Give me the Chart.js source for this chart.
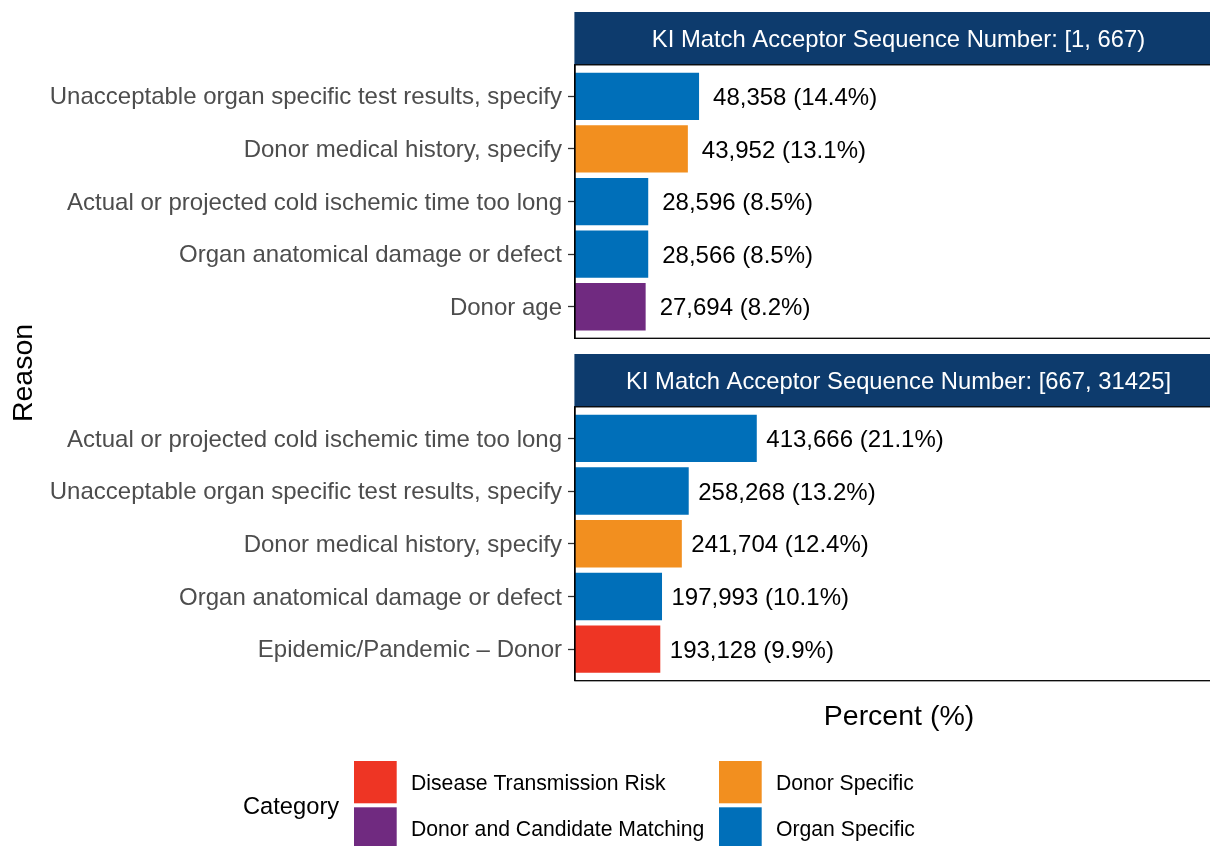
<!DOCTYPE html>
<html><head><meta charset="utf-8">
<script src="https://cdn.jsdelivr.net/npm/chart.js@4"></script>
<style>
html,body{margin:0;padding:0;background:#fff;overflow:hidden;width:1210px;height:846px}
#wrap{position:relative;width:1210px;height:846px;overflow:hidden;background:#fff}
canvas{position:absolute;left:0;top:0}
</style></head><body>
<div id="wrap"><canvas id="c1" width="1230" height="846"></canvas><canvas id="c2" width="1230" height="846"></canvas></div>
<script>
const FONT = "'Liberation Sans', Arial, Helvetica, sans-serif";

// ---- data ----
const facetTitles = ['KI Match Acceptor Sequence Number: [1, 667)', 'KI Match Acceptor Sequence Number: [667, 31425]'];

const reasons1 = ['Unacceptable organ specific test results, specify', 'Donor medical history, specify', 'Actual or projected cold ischemic time too long', 'Organ anatomical damage or defect', 'Donor age'];
const counts1 = [48358, 43952, 28596, 28566, 27694];
const pct1 = [14.4, 13.1, 8.5, 8.5, 8.2];
const cats1 = ['Organ Specific', 'Donor Specific', 'Organ Specific', 'Organ Specific', 'Donor and Candidate Matching'];

const reasons2 = ['Actual or projected cold ischemic time too long', 'Unacceptable organ specific test results, specify', 'Donor medical history, specify', 'Organ anatomical damage or defect', 'Epidemic/Pandemic \u2013 Donor'];
const counts2 = [413666, 258268, 241704, 197993, 193128];
const pct2 = [21.1, 13.2, 12.4, 10.1, 9.9];
const cats2 = ['Organ Specific', 'Organ Specific', 'Donor Specific', 'Organ Specific', 'Disease Transmission Risk'];

const categories = ['Disease Transmission Risk', 'Donor and Candidate Matching', 'Donor Specific', 'Organ Specific'];
const categoryColors = ['#EE3524', '#702A80', '#F28F1F', '#006FB9'];

const xTitle = 'Percent (%)';
const yTitle = 'Reason';
const legendTitle = 'Category';

// ---- styling ----
const NAVY = '#0D3B6D';
const colorOf = c => categoryColors[categories.indexOf(c)];
const fmt = n => n.toLocaleString('en-US');

function makePanel(canvasId, title, reasons, counts, pct, cats, top, bottom, labelGap, extra) {
  const decor = {
    id: 'decor' + canvasId,
    afterDatasetsDraw(chart) {
      const ctx = chart.ctx, a = chart.chartArea;
      ctx.save();
      // strip
      const sh = 52.8;
      ctx.fillStyle = NAVY;
      ctx.fillRect(a.left - 0.6, a.top - sh, a.right - a.left + 0.6, sh);
      ctx.fillStyle = '#FFFFFF';
      ctx.font = '23.8px ' + FONT;
      ctx.textAlign = 'center';
      ctx.textBaseline = 'middle';
      ctx.fillText(title, (a.left + a.right) / 2, a.top - sh / 2 + 2);
      // panel border
      ctx.strokeStyle = '#000';
      ctx.lineWidth = 1.3;
      ctx.strokeRect(a.left, a.top, a.right - a.left, a.bottom - a.top);
      // value labels
      const meta = chart.getDatasetMeta(0);
      ctx.fillStyle = '#000';
      ctx.textAlign = 'left';
      ctx.font = '24px ' + FONT;
      meta.data.forEach((el, i) => {
        ctx.fillText(fmt(counts[i]) + ' (' + pct[i].toFixed(1) + '%)', el.x + labelGap, el.y + 2);
      });
      ctx.restore();
      if (extra) extra(chart);
    }
  };
  return new Chart(document.getElementById(canvasId), {
    type: 'bar',
    data: {
      datasets: [{
        data: pct.map((v, i) => ({ x: v, y: i })),
        backgroundColor: cats.map(colorOf),
        borderWidth: 0,
        barPercentage: 0.9,
        categoryPercentage: 1
      }]
    },
    options: {
      indexAxis: 'y',
      responsive: false,
      animation: false,
      devicePixelRatio: 1,
      layout: { padding: { left: 0, right: 8, top: top, bottom: 846 - bottom } },
      plugins: { legend: { display: false }, tooltip: { enabled: false } },
      scales: {
        x: { type: 'linear', min: 0, max: 75.1, display: false, offset: false },
        y: {
          type: 'linear', reverse: true, min: -0.6, max: 4.6, offset: false,
          afterBuildTicks: s => { s.ticks = reasons.map((r, i) => ({ value: i })); },
          afterFit: s => { s.width = 575; },
          ticks: {
            autoSkip: false, padding: 6, color: '#4D4D4D', labelOffset: 1.5,
            font: { family: FONT, size: 24 },
            callback: v => reasons[v]
          },
          grid: { offset: false, drawOnChartArea: false, drawTicks: true, tickLength: 7, tickColor: '#333333', tickWidth: 1.3 },
          border: { display: true, color: '#000', width: 1.3 }
        }
      }
    },
    plugins: [decor]
  });
}

function drawOuter(chart) {
  const ctx = chart.ctx;
  ctx.save();
  ctx.fillStyle = '#000';
  // x title
  ctx.font = '28.5px ' + FONT;
  ctx.textAlign = 'center';
  ctx.textBaseline = 'middle';
  ctx.fillText(xTitle, 899, 717.5);
  // y title
  ctx.save();
  ctx.translate(24, 373);
  ctx.rotate(-Math.PI / 2);
  ctx.fillText(yTitle, 0, 0);
  ctx.restore();
  // legend
  ctx.font = '23.7px ' + FONT;
  ctx.textAlign = 'left';
  ctx.fillText(legendTitle, 243, 807);
  const colX = [354, 719], rowY = [761, 807.3], ks = 42.7;
  ctx.font = '21.2px ' + FONT;
  categories.forEach((c, i) => {
    const col = Math.floor(i / 2), row = i % 2;
    const x = colX[col], y = rowY[row];
    ctx.fillStyle = categoryColors[i];
    ctx.fillRect(x, y, ks, 42.3);
    ctx.fillStyle = '#000';
    ctx.fillText(c, x + 57, y + 23);
  });
  ctx.restore();
}

makePanel('c1', facetTitles[0], reasons1, counts1, pct1, cats1, 64.8, 338.3, 14, null);
makePanel('c2', facetTitles[1], reasons2, counts2, pct2, cats2, 406.8, 680.7, 9.5, drawOuter);
</script>
</body></html>
